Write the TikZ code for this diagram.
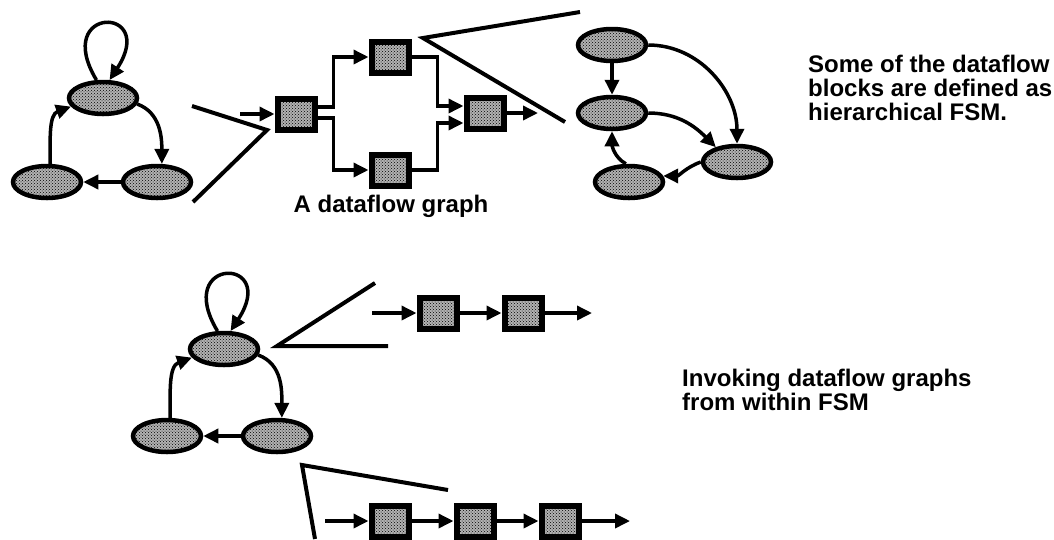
\documentclass[tikz,border=0pt]{standalone}
\usepackage{fontspec}
\setmainfont{Liberation Sans}
\usetikzlibrary{arrows.meta,shapes.geometric,patterns}

\begin{document}
\begin{tikzpicture}[x=1pt, y=-1pt, >={Triangle[length=15pt,width=14pt]},
  state/.style={ellipse, draw, line width=4.5pt, fill=black!30, postaction={pattern=crosshatch dots},
    minimum width=68pt, minimum height=32pt, inner sep=0pt},
  block/.style={rectangle, draw, line width=6pt, fill=black!30, postaction={pattern=crosshatch dots},
    minimum width=37pt, minimum height=31pt, inner sep=0pt},
  flow/.style={->, line width=3.5pt},
  wedge/.style={line width=4pt},
  note/.style={font=\fontsize{24}{24}\selectfont\bfseries, align=left, inner sep=0pt}]
\useasboundingbox (0,0) rectangle (1054,539);

% FSM on the top left
\node[state] (s1) at (103,98) {};
\node[state] (s2) at (47,182) {};
\node[state] (s3) at (157,182) {};
\draw[flow] (s1.110) .. controls +(-45,-75) and +(49,-75) .. (s1.70);
\draw[flow] (s1.-10) to[out=-20,in=90] (s3.75);
\draw[flow] (s3.west) -- (s2.east);
\draw[flow] (s2.80) to[out=90,in=200] (s1.195);

\coordinate (w1a) at (192,106);
\coordinate (w1b) at (267,130);
\coordinate (w1c) at (193,202);
\draw[wedge] (w1a) -- (w1b) -- (w1c);

% the dataflow graph
\coordinate (din) at (240,114);
\node[block] (d1) at (296,114) {};
\node[block] (d2) at (390,57) {};
\node[block] (d3) at (390,170) {};
\node[block] (d4) at (485,113) {};
\coordinate (dout) at (538,113);
\draw[flow] (din) -- (d1);
\draw[flow] ([yshift=7pt]d1.east) -- ++(16,0) |- (d2.west);
\draw[flow] ([yshift=-4pt]d1.east) -- ++(16,0) |- (d3.west);
\draw[flow] (d2.east) -- ++(26,0) |- ([yshift=7pt]d4.west);
\draw[flow] (d3.east) -- ++(26,0) |- ([yshift=-10pt]d4.west);
\draw[flow] (d4) -- (dout);
\node[note, anchor=base] (lab) at (391,212) {A dataflow graph};

\coordinate (w2a) at (580,12);
\coordinate (w2b) at (423,38);
\coordinate (w2c) at (565,122);
\draw[wedge] (w2a) -- (w2b) -- (w2c);

% FSM inside a block
\node[state] (h1) at (612,45) {};
\node[state] (h2) at (612,113) {};
\node[state] (h3) at (737,162) {};
\node[state] (h4) at (629,182) {};
\draw[flow] (h1) -- (h2);
\draw[flow] (h1.east) to[out=0,in=90] (h3.north);
\draw[flow] (h2.east) to[out=0,in=135] (h3.145);
\draw[flow] (h3.west) to[out=200,in=0] (h4.10);
\draw[flow] (h4.100) to[out=150,in=-90] (h2.south);

\node[note, anchor=north west] (n1) at (808,55)
  {Some of the dataflow\\blocks are defined as\\hierarchical FSM.};

% FSM on the bottom
\node[state] (t1) at (224,349) {};
\node[state] (t2) at (167,436) {};
\node[state] (t3) at (277,436) {};
\draw[flow] (t1.110) .. controls +(-45,-75) and +(49,-75) .. (t1.70);
\draw[flow] (t1.-10) to[out=-20,in=90] (t3.75);
\draw[flow] (t3.west) -- (t2.east);
\draw[flow] (t2.80) to[out=90,in=200] (t1.195);

\coordinate (w3a) at (375,283);
\coordinate (w3b) at (277,346);
\coordinate (w3c) at (388,346);
\draw[wedge] (w3a) -- (w3b) -- (w3c);

\coordinate (ain) at (372,313);
\node[block] (a1) at (438,313) {};
\node[block] (a2) at (523,313) {};
\coordinate (aout) at (592,313);
\draw[flow] (ain) -- (a1);
\draw[flow] (a1) -- (a2);
\draw[flow] (a2) -- (aout);

\coordinate (w4a) at (448,490);
\coordinate (w4b) at (302,465);
\coordinate (w4c) at (315,539);
\draw[wedge] (w4a) -- (w4b) -- (w4c);

\coordinate (bin) at (325,521);
\node[block] (b1) at (390,521) {};
\node[block] (b2) at (475,521) {};
\node[block] (b3) at (560,521) {};
\coordinate (bout) at (630,521);
\draw[flow] (bin) -- (b1);
\draw[flow] (b1) -- (b2);
\draw[flow] (b2) -- (b3);
\draw[flow] (b3) -- (bout);

\node[note, anchor=north west] (n2) at (682,369)
  {Invoking dataflow graphs\\from within FSM};
\end{tikzpicture}
\end{document}
